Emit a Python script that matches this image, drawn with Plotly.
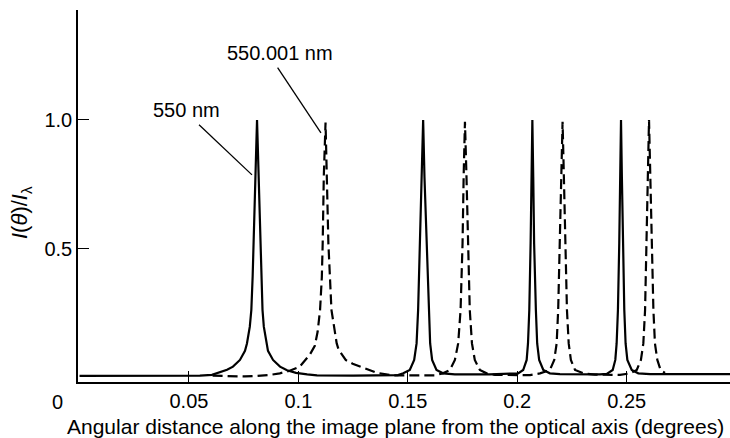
import plotly.graph_objects as go

# Transmitted intensity vs. angular distance for two wavelengths
theta_550 = [
    0.0000, 0.0300, 0.0550, 0.0605, 0.0637, 0.0674, 0.0701, 0.0733, 0.0756, 0.0765,
    0.0778, 0.0785, 0.0791, 0.0796, 0.0804, 0.0808, 0.0811, 0.0814, 0.0817, 0.0825,
    0.0829, 0.0836, 0.0842, 0.0854, 0.0861, 0.0884, 0.0916, 0.0948, 0.0989, 0.1040,
    0.1085, 0.1250, 0.1420, 0.1455, 0.1479, 0.1509, 0.1529, 0.1540, 0.1547, 0.1556,
    0.1564, 0.1570, 0.1576, 0.1586, 0.1595, 0.1602, 0.1611, 0.1631, 0.1661, 0.1715,
    0.1875, 0.1966, 0.2004, 0.2027, 0.2043, 0.2049, 0.2055, 0.2061, 0.2065, 0.2069,
    0.2073, 0.2077, 0.2085, 0.2091, 0.2100, 0.2119, 0.2149, 0.2195, 0.2378, 0.2409,
    0.2436, 0.2448, 0.2454, 0.2460, 0.2466, 0.2470, 0.2474, 0.2478, 0.2483, 0.2489,
    0.2495, 0.2503, 0.2523, 0.2553, 0.2607, 0.2972,
]
intensity_550 = [
    0.008, 0.008, 0.009, 0.012, 0.020, 0.032, 0.044, 0.070, 0.105, 0.134,
    0.199, 0.264, 0.393, 0.523, 0.780, 0.911, 1.000, 0.911, 0.780, 0.523,
    0.393, 0.264, 0.199, 0.134, 0.105, 0.070, 0.044, 0.030, 0.020, 0.014,
    0.010, 0.009, 0.010, 0.011, 0.018, 0.031, 0.070, 0.134, 0.264, 0.522,
    0.780, 1.000, 0.780, 0.522, 0.264, 0.134, 0.070, 0.031, 0.018, 0.014,
    0.014, 0.015, 0.018, 0.031, 0.070, 0.134, 0.264, 0.522, 0.780, 1.000,
    0.780, 0.522, 0.264, 0.134, 0.070, 0.031, 0.018, 0.015, 0.014, 0.016,
    0.031, 0.070, 0.134, 0.264, 0.522, 0.780, 1.000, 0.780, 0.522, 0.264,
    0.134, 0.070, 0.031, 0.018, 0.015, 0.015,
]

theta_550001 = [
    0.0608, 0.0686, 0.0755, 0.0808, 0.0869, 0.0915, 0.0960, 0.1006, 0.1029, 0.1052,
    0.1075, 0.1088, 0.1099, 0.1107, 0.1111, 0.1116, 0.1124, 0.1131, 0.1137, 0.1151,
    0.1166, 0.1175, 0.1184, 0.1216, 0.1248, 0.1281, 0.1313, 0.1358, 0.1431, 0.1509,
    0.1623, 0.1660, 0.1692, 0.1715, 0.1730, 0.1741, 0.1750, 0.1755, 0.1761, 0.1768,
    0.1776, 0.1783, 0.1793, 0.1806, 0.1829, 0.1860, 0.1898, 0.2012, 0.2058, 0.2104,
    0.2149, 0.2169, 0.2180, 0.2187, 0.2195, 0.2201, 0.2207, 0.2213, 0.2219, 0.2227,
    0.2235, 0.2245, 0.2264, 0.2302, 0.2355, 0.2424, 0.2469, 0.2515, 0.2546, 0.2565,
    0.2576, 0.2584, 0.2591, 0.2597, 0.2602, 0.2608, 0.2614, 0.2622, 0.2629, 0.2640,
    0.2655, 0.2675,
]
intensity_550001 = [
    0.009, 0.007, 0.006, 0.008, 0.012, 0.018, 0.028, 0.044, 0.065, 0.090,
    0.125, 0.180, 0.264, 0.390, 0.522, 0.780, 0.990, 0.780, 0.522, 0.264,
    0.186, 0.134, 0.109, 0.070, 0.055, 0.044, 0.032, 0.020, 0.010, 0.009,
    0.010, 0.018, 0.031, 0.070, 0.134, 0.264, 0.522, 0.780, 0.993, 0.780,
    0.522, 0.264, 0.134, 0.070, 0.031, 0.018, 0.012, 0.010, 0.011, 0.018,
    0.031, 0.070, 0.134, 0.264, 0.522, 0.780, 0.993, 0.780, 0.522, 0.264,
    0.134, 0.070, 0.031, 0.018, 0.013, 0.012, 0.012, 0.018, 0.031, 0.070,
    0.134, 0.264, 0.522, 0.780, 1.000, 0.780, 0.522, 0.264, 0.134, 0.070,
    0.031, 0.020,
]

x_tick_vals = [0.05, 0.1, 0.15, 0.2, 0.25]
x_tick_text = ["0.05", "0.1", "0.15", "0.2", "0.25"]
y_tick_vals = [0.5, 1.0]
y_tick_text = ["0.5", "1.0"]

FONT = "Liberation Sans, Arial, Helvetica, sans-serif"

fig = go.Figure()
fig.add_trace(go.Scatter(
    x=theta_550, y=intensity_550, mode="lines", name="550 nm",
    line=dict(color="black", width=2.2),
))
fig.add_trace(go.Scatter(
    x=theta_550001, y=intensity_550001, mode="lines", name="550.001 nm",
    line=dict(color="black", width=2.2, dash="10px,5px"),
))

# leader lines for the wavelength labels
fig.add_shape(type="line", x0=0.0546, y0=0.981, x1=0.0788, y1=0.787,
              line=dict(color="black", width=1.3))
fig.add_shape(type="line", x0=0.0905, y0=1.203, x1=0.1103, y1=0.950,
              line=dict(color="black", width=1.3))

label_font = dict(family=FONT, size=20, color="black")
title_font = dict(family=FONT, size=21, color="black")

# wavelength labels (data coordinates)
for a in [dict(x=0.0491, y=1.039, text="550 nm"),
          dict(x=0.0918, y=1.260, text="550.001 nm")]:
    fig.add_annotation(xref="x", yref="y", showarrow=False,
                       xanchor="center", yanchor="middle", font=label_font, **a)

# origin label and axis titles (paper coordinates)
for a in [
    dict(x=-0.0314, y=-0.0538, text="0", font=label_font),
    dict(x=0.4862, y=-0.1183, font=title_font,
         text="Angular distance along the image plane from the optical axis (degrees)"),
    dict(x=-0.0874, y=0.4543, font=dict(family=FONT, size=22, color="black"),
         text="<i>I</i>(<i>θ</i>)/<i>I</i><sub>λ</sub>", textangle=-90),
]:
    fig.add_annotation(xref="paper", yref="paper", showarrow=False,
                       xanchor="center", yanchor="middle", **a)

axis_common = dict(
    showline=True, linecolor="black", linewidth=1.5,
    ticks="inside", ticklen=11, tickwidth=1.3, tickcolor="black",
    showgrid=False, zeroline=False,
    tickfont=dict(family=FONT, size=20, color="black"),
)
fig.update_xaxes(range=[-0.0007, 0.2972], tickvals=x_tick_vals, ticktext=x_tick_text,
                 **axis_common)
fig.update_yaxes(range=[-0.0155, 1.426], tickvals=y_tick_vals, ticktext=y_tick_text,
                 **axis_common)

fig.update_layout(
    width=730, height=438,
    margin=dict(l=78, r=0, t=10, b=56),
    plot_bgcolor="white", paper_bgcolor="white",
    showlegend=False,
    font=dict(family=FONT, size=20, color="black"),
)

fig.write_html("out.html")
